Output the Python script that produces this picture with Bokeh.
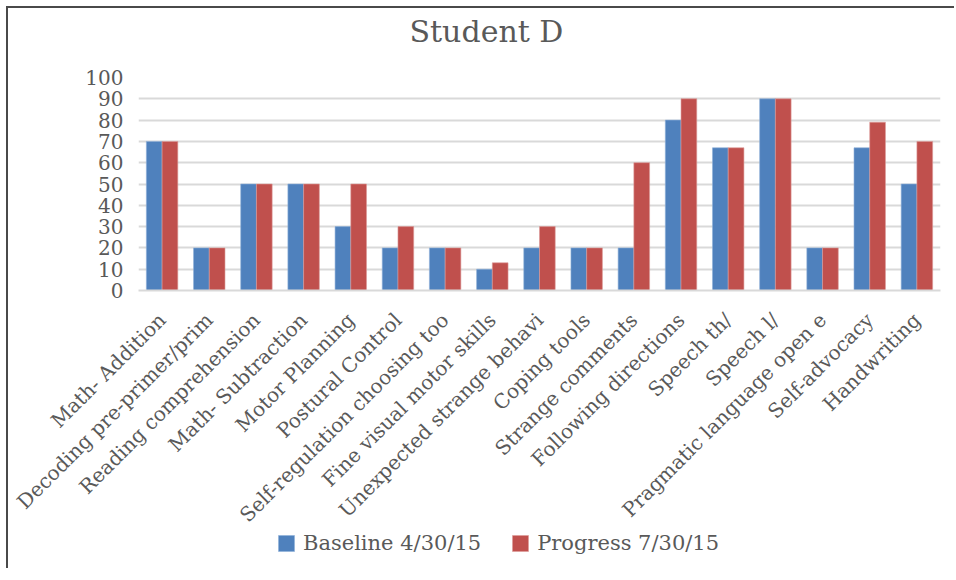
import math
from bokeh.plotting import figure
from bokeh.layouts import column
from bokeh.models import FactorRange, FixedTicker, Legend, LegendItem, ColumnDataSource
from bokeh.transform import dodge
from bokeh.embed import file_html
from bokeh.resources import INLINE

categories = [
    "Math- Addition",
    "Decoding pre-primer/prim",
    "Reading comprehension",
    "Math- Subtraction",
    "Motor Planning",
    "Postural Control",
    "Self-regulation choosing too",
    "Fine visual motor skills",
    "Unexpected strange behavi",
    "Coping tools",
    "Strange comments",
    "Following directions",
    "Speech th/",
    "Speech l/",
    "Pragmatic language open e",
    "Self-advocacy",
    "Handwriting",
]
baseline = [70, 20, 50, 50, 30, 20, 20, 10, 20, 20, 20, 80, 67, 90, 20, 67, 50]
progress = [70, 20, 50, 50, 50, 30, 20, 13, 30, 20, 60, 90, 67, 90, 20, 79, 70]
y_ticks = [0, 10, 20, 30, 40, 50, 60, 70, 80, 90, 100]
series_names = ["Baseline 4/30/15", "Progress 7/30/15"]
chart_title = "Student D"

BLUE = "#4F81BD"
RED = "#C0504D"
TEXT = "#595959"
GRID = "#D9D9D9"
FONT = "DejaVu Serif"

source = ColumnDataSource(dict(cat=categories, baseline=baseline, progress=progress))

# title strip
tf = figure(width=946, height=46, output_backend="svg", toolbar_location=None,
            min_border=0, x_range=(0, 1), y_range=(0, 1), title=chart_title)
tf.axis.visible = False
tf.grid.grid_line_color = None
tf.outline_line_color = None
tf.background_fill_color = None
tf.border_fill_color = None
tf.title.text_font = FONT
tf.title.text_font_size = "30px"
tf.title.text_font_style = "normal"
tf.title.text_color = TEXT
tf.title.align = "left"
tf.title.offset = 271
tf.title.standoff = 6

p = figure(
    x_range=FactorRange(*categories),
    y_range=(0, 100),
    width=946,
    height=502,
    min_border_left=130,
    min_border_right=14,
    min_border_top=23,
    min_border_bottom=266,
    output_backend="svg",
    toolbar_location=None,
)

r1 = p.vbar(x=dodge("cat", -1/6, range=p.x_range), top="baseline", width=1/3,
            source=source, fill_color=BLUE, line_color="#8fb0d8", line_width=0.6)
r2 = p.vbar(x=dodge("cat", 1/6, range=p.x_range), top="progress", width=1/3,
            source=source, fill_color=RED, line_color="#dc9a98", line_width=0.6)

p.outline_line_color = None
p.background_fill_color = "white"
p.border_fill_color = "white"

p.xgrid.grid_line_color = None
p.ygrid.grid_line_color = GRID
p.ygrid.grid_line_width = 2
p.ygrid.ticker = FixedTicker(ticks=y_ticks)

p.yaxis.ticker = FixedTicker(ticks=y_ticks)
p.yaxis.axis_line_color = None
p.yaxis.major_tick_line_color = None
p.yaxis.minor_tick_line_color = None
p.yaxis.major_label_text_font = FONT
p.yaxis.major_label_text_font_size = "20px"
p.yaxis.major_label_text_color = TEXT
p.yaxis.major_label_standoff = 9

p.xaxis.axis_line_color = GRID
p.xaxis.axis_line_width = 2
p.xaxis.major_tick_line_color = None
p.xaxis.minor_tick_line_color = None
p.xaxis.major_label_orientation = math.pi / 4
p.xaxis.major_label_text_font = FONT
p.xaxis.major_label_text_font_size = "20px"
p.xaxis.major_label_text_color = TEXT
p.xaxis.major_label_standoff = 20

# legend strip below the chart (overlaps the chart's bottom margin)
lf = figure(width=946, height=40, output_backend="svg", toolbar_location=None,
            min_border=0, x_range=(0, 1), y_range=(0, 1), margin=(-28, 0, 0, 0))
lf.axis.visible = False
lf.grid.grid_line_color = None
lf.outline_line_color = None
lf.background_fill_color = None
lf.border_fill_color = None
key = ColumnDataSource(dict(x=[0.5], top=[0], bottom=[0]))
k1 = lf.vbar(x="x", top="top", bottom="bottom", width=0, source=key,
             fill_color=BLUE, line_color="#8fb0d8", line_width=0.6)
k2 = lf.vbar(x="x", top="top", bottom="bottom", width=0, source=key,
             fill_color=RED, line_color="#dc9a98", line_width=0.6)

legend = Legend(
    items=[LegendItem(label=series_names[0], renderers=[k1]),
           LegendItem(label=series_names[1], renderers=[k2])],
    orientation="horizontal",
    location=(138, 13),
    label_text_font=FONT,
    label_text_font_size="21px",
    label_text_color=TEXT,
    glyph_width=20,
    glyph_height=20,
    label_standoff=7,
    spacing=29,
    padding=0,
    margin=0,
    border_line_color=None,
    background_fill_alpha=0,
)
lf.add_layout(legend, "center")

layout = column(tf, p, lf, spacing=0)
layout.styles = {"border-left": "2px solid #4a4a4a", "border-top": "2px solid #4a4a4a",
                 "margin-left": "6px", "margin-top": "6px", "background-color": "white"}

open("out.html", "w").write(file_html(layout, INLINE))
